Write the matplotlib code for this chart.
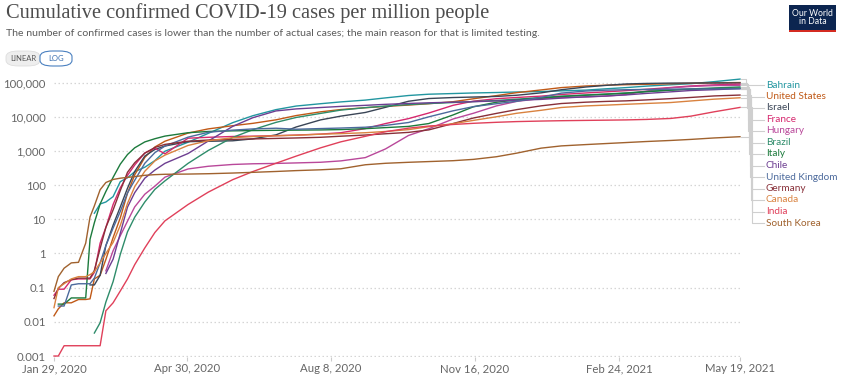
import matplotlib
matplotlib.use("Agg")
import matplotlib.pyplot as plt
import matplotlib.dates as mdates
from matplotlib.patches import FancyBboxPatch, Rectangle
from matplotlib.lines import Line2D
import numpy as np

nan = float("nan")

# sample dates shared by every series
dates = ["2020-01-29", "2020-02-01", "2020-02-05", "2020-02-10", "2020-02-15", "2020-02-20",
         "2020-02-23", "2020-02-26", "2020-03-01", "2020-03-05", "2020-03-10", "2020-03-15",
         "2020-03-20", "2020-03-25", "2020-04-01", "2020-04-08", "2020-04-15", "2020-05-01",
         "2020-05-15", "2020-06-01", "2020-06-15", "2020-07-01", "2020-07-15", "2020-08-01",
         "2020-08-15", "2020-09-01", "2020-09-15", "2020-10-01", "2020-10-15", "2020-11-01",
         "2020-11-15", "2020-12-01", "2020-12-15", "2021-01-01", "2021-01-15", "2021-02-01",
         "2021-02-15", "2021-03-01", "2021-03-15", "2021-04-01", "2021-04-15", "2021-05-01",
         "2021-05-19"]

# cumulative confirmed cases per million
bahrain = [nan, nan, nan, nan, nan, nan, nan, 15, 28, 32, 46, 126, 164, 246, 333, 520, 980, 1790,
           3250, 6700, 10700, 16100, 20500, 24000, 27100, 30600, 35500, 41700, 45500, 47600, 49500,
           51000, 52800, 54500, 57000, 60000, 65500, 71000, 78500, 86000, 92500, 106000, 126000]
united_states = [0.015, 0.024, 0.036, 0.036, 0.045, 0.045, 0.047, 0.18, 0.23, 0.67, 2.9, 11, 58, 199,
                 645, 1300, 1920, 3320, 4400, 5460, 6400, 8100, 10800, 13900, 16200, 18300, 20000,
                 21900, 24000, 27500, 33500, 41400, 50500, 60700, 71000, 79200, 83500, 86400, 88700,
                 92100, 95300, 97900, 99700]
israel = [nan, nan, nan, nan, nan, nan, 0.12, 0.12, 0.23, 1.7, 6.7, 23, 81, 250, 704, 1100, 1391,
          1860, 1910, 1975, 2250, 2945, 5000, 8080, 10400, 13300, 18800, 28300, 34000, 36400, 37600,
          39200, 42400, 49900, 61500, 73900, 82500, 90800, 94000, 96300, 96600, 96800, 96900]
france = [0.06, 0.09, 0.09, 0.17, 0.18, 0.18, 0.18, 0.28, 2.0, 5.8, 27, 83, 193, 386, 870, 1200, 820,
          2350, 2500, 2640, 2700, 2790, 2900, 3100, 3400, 4500, 6300, 8800, 12800, 21600, 28500,
          33600, 36500, 40000, 44700, 49500, 53400, 57900, 63500, 71500, 79500, 85500, 89500]
hungary = [nan, nan, nan, nan, nan, nan, nan, nan, nan, 0.31, 1.2, 3.3, 8.8, 23, 54, 93, 171, 296,
           355, 401, 420, 430, 445, 465, 510, 636, 1140, 2830, 4450, 8600, 12600, 20700, 28000,
           34200, 36300, 37800, 40000, 44500, 56400, 70400, 76600, 81300, 83100]
brazil = [nan, nan, nan, nan, nan, nan, nan, 0.0047, 0.0094, 0.038, 0.15, 0.94, 4.3, 11.5, 32, 75,
          133, 431, 1027, 2477, 4170, 6820, 9500, 12500, 15600, 18400, 20500, 22600, 24300, 26000,
          27700, 29800, 32600, 36200, 39800, 43300, 46200, 49800, 54300, 60400, 65000, 69300, 74400]
italy = [nan, 0.033, 0.033, 0.05, 0.05, 0.05, 2.6, 7.9, 28, 65, 168, 410, 783, 1230, 1830, 2270,
         2710, 3400, 3700, 3860, 3930, 4000, 4050, 4100, 4200, 4470, 4800, 5200, 6300, 11300, 19500,
         26500, 31000, 35200, 39000, 42400, 45200, 48500, 54000, 59800, 63600, 66900, 68900]
chile = [nan, nan, nan, nan, nan, nan, nan, nan, nan, 0.26, 0.68, 3.9, 22.7, 60, 159, 275, 433, 838,
         1938, 5215, 9360, 14750, 16900, 18570, 20000, 21500, 23000, 24400, 25500, 26600, 27500,
         28900, 30300, 32100, 35000, 38200, 40400, 43400, 48000, 53400, 58500, 61700, 66400]
united_kingdom = [nan, 0.029, 0.029, 0.12, 0.13, 0.13, 0.13, 0.19, 0.53, 1.7, 5.5, 17, 59, 138, 434,
                  890, 1383, 2522, 3500, 4047, 4390, 4605, 4300, 4500, 4660, 4930, 5560, 6770, 9900,
                  14900, 19700, 24000, 28300, 36700, 49000, 56300, 59700, 61600, 62800, 64100, 64700,
                  65100, 65700]
germany = [0.048, 0.095, 0.14, 0.17, 0.19, 0.19, 0.19, 0.32, 1.4, 5.8, 18.7, 69, 237, 450, 857, 1260,
           1550, 1920, 2080, 2170, 2240, 2316, 2390, 2500, 2690, 2910, 3170, 3480, 4110, 6330, 9160,
           12500, 16100, 20800, 24300, 26600, 28000, 29100, 31000, 33800, 36600, 40500, 43000]
canada = [0.026, 0.1, 0.13, 0.18, 0.21, 0.21, 0.24, 0.29, 0.53, 1.0, 2.1, 6.6, 29, 90, 254, 510, 753,
          1443, 1980, 2430, 2630, 2760, 2870, 3080, 3200, 3400, 3700, 4190, 5100, 6260, 7800, 9950,
          12600, 15400, 18600, 20700, 21800, 23100, 24400, 26000, 28900, 32600, 35800]
india = [0.001, 0.001, 0.002, 0.002, 0.002, 0.002, 0.002, 0.002, 0.002, 0.021, 0.036, 0.08, 0.18,
         0.47, 1.45, 4.1, 9, 27, 62, 144, 249, 435, 703, 1230, 1840, 2670, 3630, 4630, 5330, 5930,
         6410, 6860, 7200, 7460, 7640, 7800, 7920, 8060, 8320, 8900, 10400, 13900, 18700]
south_korea = [0.078, 0.21, 0.37, 0.53, 0.55, 2.0, 11.7, 24.6, 73, 119, 146, 159, 168, 177, 193,
               202, 207, 210, 215, 225, 236, 250, 265, 280, 300, 393, 434, 464, 487, 517, 565, 675,
               858, 1204, 1400, 1530, 1640, 1755, 1880, 2020, 2170, 2390, 2601]

countries = ["Bahrain", "United States", "Israel", "France", "Hungary", "Brazil", "Italy", "Chile",
             "United Kingdom", "Germany", "Canada", "India", "South Korea"]
series = [bahrain, united_states, israel, france, hungary, brazil, italy, chile, united_kingdom,
          germany, canada, india, south_korea]
colors = ["#2296A0", "#C05917", "#3A4556", "#D6286E", "#B9489A", "#2E8C6A", "#1C7A3C", "#6D3E91",
          "#4C6A9C", "#883039", "#D9823F", "#E0405A", "#A0622E"]

x_ticks = ["2020-01-29", "2020-04-30", "2020-08-08", "2020-11-16", "2021-02-24", "2021-05-19"]
x_tick_labels = ["Jan 29, 2020", "Apr 30, 2020", "Aug 8, 2020", "Nov 16, 2020", "Feb 24, 2021",
                 "May 19, 2021"]
y_ticks = [0.001, 0.01, 0.1, 1, 10, 100, 1000, 10000, 100000]
y_tick_labels = ["0.001", "0.01", "0.1", "1", "10", "100", "1,000", "10,000", "100,000"]

plt.rcParams['font.family'] = ['Lato', 'DejaVu Sans']

W, H = 850, 378
fig = plt.figure(figsize=(W / 100, H / 100), dpi=100)


def fx(px):
    return px / W


def fy(py):
    return 1 - py / H


# plot area in pixels: left 54, right 740, top 76.5, bottom 357
ax = fig.add_axes([fx(54), fy(357.1), fx(740) - fx(54), fy(76.5) - fy(357.1)])

d = np.array(dates, dtype="datetime64[D]")
for vals, col in zip(series, colors):
    ax.plot(d, vals, color=col, lw=1.0, solid_joinstyle="round", clip_on=False, zorder=3)

ax.set_yscale("log")
ax.set_ylim(0.00093, 150000)
ax.set_xlim(np.datetime64(x_ticks[0]), np.datetime64(x_ticks[-1]))
ax.set_yticks(y_ticks)
ax.set_yticklabels(y_tick_labels)
ax.yaxis.set_minor_locator(matplotlib.ticker.NullLocator())
ax.set_xticks(np.array(x_ticks, dtype="datetime64[D]"))
ax.set_xticklabels(x_tick_labels)
ax.grid(axis="y", linestyle=(0, (1.2, 2)), color="#d5d5d5", lw=0.9)
ax.set_axisbelow(True)
for s in ax.spines.values():
    s.set_visible(False)
ax.tick_params(axis="y", length=0, pad=6, labelsize=8.2, labelcolor="#666666")
ax.tick_params(axis="x", length=3, width=0.8, color="#cccccc", pad=1.5, labelsize=8.2,
               labelcolor="#666666")

# series labels on the right with connector lines
fig.canvas.draw()
label_y0 = 85.0
label_step = 11.5
for i, (name, vals, col) in enumerate(zip(countries, series, colors)):
    xe, ye = ax.transData.transform((mdates.date2num(d[-1]), vals[-1]))
    ly = H - (label_y0 + i * label_step)
    xv = 746 + 0.5 * i
    fig.add_artist(Line2D([xe + 1, xv, xv, 764], [ye, ye, ly, ly], transform=None,
                          color="#cfcfcf", lw=0.8, zorder=1))
    fig.text(fx(766), ly / H, name, color=col, fontsize=7.2, va="center", ha="left")

# title and subtitle
fig.text(fx(6), fy(3), "Cumulative confirmed COVID-19 cases per million people",
         fontsize=14.7, family="Liberation Serif", color="#4d4d4d", va="top")
fig.text(fx(6), fy(33), "The number of confirmed cases is lower than the number of actual cases; "
         "the main reason for that is limited testing.", fontsize=7.55, color="#5b5b5b",
         va="center")

# linear / log toggle
fig.add_artist(FancyBboxPatch((fx(6), fy(66)), fx(40) - fx(6), fy(51) - fy(66),
                              boxstyle="round,pad=0,rounding_size=0.015", transform=fig.transFigure,
                              facecolor="#eeeeee", edgecolor="#dddddd", lw=0.6))
fig.add_artist(FancyBboxPatch((fx(40), fy(66)), fx(72) - fx(40), fy(51) - fy(66),
                              boxstyle="round,pad=0,rounding_size=0.015", transform=fig.transFigure,
                              facecolor="white", edgecolor="#4a80c0", lw=0.8))
fig.text(fx(23), fy(58.5), "LINEAR", fontsize=5.5, color="#555555", ha="center", va="center")
fig.text(fx(56), fy(58.5), "LOG", fontsize=5.5, color="#3a6fb0", ha="center", va="center")

# logo
fig.add_artist(Rectangle((fx(789), fy(30)), fx(836) - fx(789), fy(5) - fy(30),
                         transform=fig.transFigure, facecolor="#0c2550", edgecolor="none"))
fig.add_artist(Rectangle((fx(789), fy(32)), fx(836) - fx(789), fy(30) - fy(32),
                         transform=fig.transFigure, facecolor="#d42b21", edgecolor="none"))
fig.text(fx(812.5), fy(17.5), "Our World\nin Data", fontsize=6.2, color="white", ha="center",
         va="center", linespacing=1.0)

fig.savefig("out.png", dpi=100)
